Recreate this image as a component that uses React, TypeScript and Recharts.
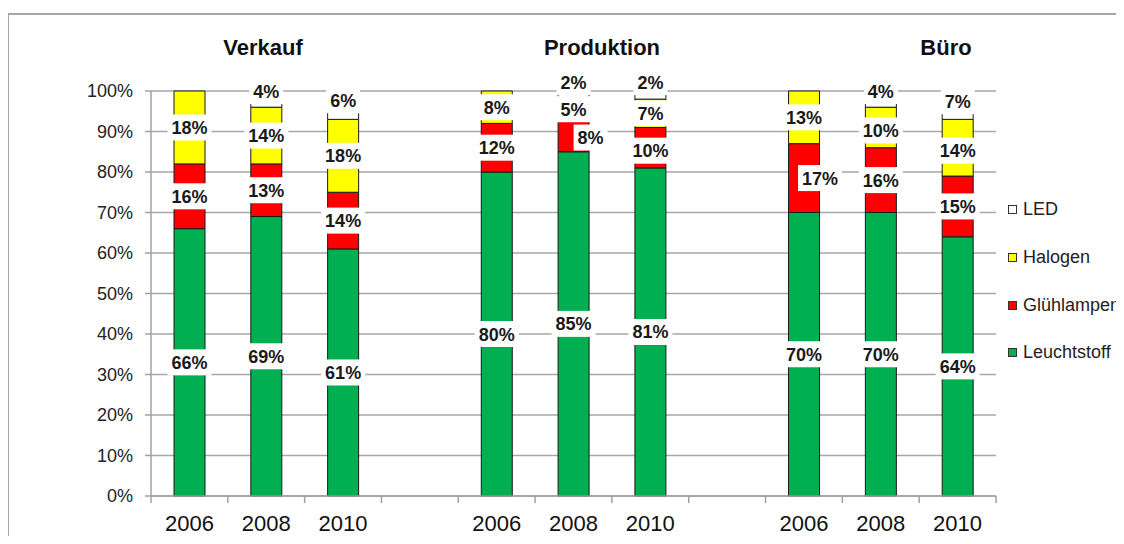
import React from "react";
import { BarChart, Bar, XAxis, YAxis, CartesianGrid, LabelList } from "recharts";

const categories = ["2006", "2008", "2010", "", "2006", "2008", "2010", "", "2006", "2008", "2010"];
const leuchtstoff = [66, 69, 61, null, 80, 85, 81, null, 70, 70, 64];
const gluehlampen = [16, 13, 14, null, 12, 8, 10, null, 17, 16, 15];
const halogen = [18, 14, 18, null, 8, 5, 7, null, 13, 10, 14];
const led = [0, 4, 6, null, 0, 2, 2, null, 0, 4, 7];
const yTicks = [0, 10, 20, 30, 40, 50, 60, 70, 80, 90, 100];

const groups = [
  { name: "Verkauf", center: 263 },
  { name: "Produktion", center: 602 },
  { name: "Büro", center: 946 },
];

const SERIES = [
  { key: "leuchtstoff", name: "Leuchtstoff", color: "#00B050" },
  { key: "gluehlampen", name: "Glühlampen", color: "#FF0000" },
  { key: "halogen", name: "Halogen", color: "#FFFF00" },
  { key: "led", name: "LED", color: "#FFFFFF" },
];

// label nudges where Excel moved labels away from each other (keyed by category position)
const labelShift: Record<string, [number, number]> = {
  "led-1": [0, -8],
  "led-2": [0, -7],
  "led-5": [0, -13],
  "led-6": [0, -13],
  "led-9": [0, -8],
  "led-10": [0, -4],
  "gluehlampen-5": [17, 2],
  "gluehlampen-8": [16, 0],
  "gluehlampen-6": [0, 3],
  "halogen-9": [0, 3],
  "halogen-10": [0, 3],
};

const data = categories.map((cat, i) => ({
  cat,
  leuchtstoff: leuchtstoff[i],
  gluehlampen: gluehlampen[i],
  halogen: halogen[i],
  led: led[i],
}));

const FONT = '"Liberation Sans", Arial, sans-serif';
const W = 1124;
const H = 544;
const PLOT_LEFT = 151;
const BAND = (996 - PLOT_LEFT) / categories.length;

const makeLabel = (key: string) => (props: any) => {
  const { x, y, width, height, value } = props;
  if (!value) return null;
  const barCenter = Number(x) + Number(width) / 2;
  const slot = Math.floor((barCenter - PLOT_LEFT) / BAND);
  const [dx, dy] = labelShift[`${key}-${slot}`] || [0, 0];
  const text = `${value}%`;
  const tw = (text.length - 1) * 10 + 16;
  const cx = barCenter + dx;
  const cy = Number(y) + Number(height) / 2 + dy;
  return (
    <g>
      <rect x={cx - tw / 2 - 4} y={cy - 13} width={tw + 8} height={26} fill="#fff" />
      <text x={cx} y={cy + 6.5} textAnchor="middle" fontFamily={FONT} fontWeight="bold" fontSize={18} fill="#1a1a1a">
        {text}
      </text>
    </g>
  );
};

const XTick = (props: any) => {
  const { x, y, payload, index } = props;
  return (
    <g>
      <line x1={x - BAND / 2} x2={x - BAND / 2} y1={y - 7} y2={y} stroke="#a0a0a0" strokeWidth={1.5} />
      {index === categories.length - 1 && (
        <line x1={x + BAND / 2} x2={x + BAND / 2} y1={y - 7} y2={y} stroke="#a0a0a0" strokeWidth={1.5} />
      )}
      <text x={x} y={y + 28} textAnchor="middle" fontFamily={FONT} fontSize={22} fill="#111">
        {payload.value}
      </text>
    </g>
  );
};

export default function App() {
  return (
    <div style={{ position: "relative", width: W, height: H, margin: -8, overflow: "hidden", background: "#fff" }}>
      <div
        style={{
          position: "absolute",
          left: 7,
          top: 13,
          width: 1300,
          height: 700,
          borderTop: "2px solid #a6a6a6",
          borderLeft: "2px solid #a6a6a6",
        }}
      />
      <div style={{ position: "absolute", left: 0, top: 0 }}>
        <BarChart width={W} height={H} data={data} margin={{ top: 91, right: 128, bottom: 0, left: 0 }} barSize={31}>
          <CartesianGrid horizontal vertical={false} stroke="#a6a6a6" strokeWidth={1.5} />
          <XAxis
            dataKey="cat"
            height={48}
            tickLine={false}
            tickSize={7}
            tickMargin={0}
            axisLine={{ stroke: "#a0a0a0", strokeWidth: 1.5 }}
            tick={<XTick />}
            interval={0}
          />
          <YAxis
            width={151}
            domain={[0, 100]}
            ticks={yTicks}
            interval={0}
            tickFormatter={(v: number) => `${v}%`}
            tickSize={6}
            tickMargin={12}
            axisLine={{ stroke: "#a0a0a0", strokeWidth: 1.5 }}
            tickLine={{ stroke: "#a0a0a0", strokeWidth: 1.5 }}
            tick={{ fontFamily: FONT, fontSize: 18, fill: "#222" }}
          />
          {SERIES.map((s) => (
            <Bar
              key={s.key}
              dataKey={s.key}
              name={s.name}
              stackId="a"
              fill={s.color}
              stroke="#1a1a1a"
              strokeWidth={1}
              isAnimationActive={false}
            >
              <LabelList dataKey={s.key} content={makeLabel(s.key)} />
            </Bar>
          ))}
        </BarChart>
      </div>
      {groups.map((g) => (
        <div
          key={g.name}
          style={{
            position: "absolute",
            left: g.center - 100,
            width: 200,
            top: 34,
            textAlign: "center",
            fontFamily: FONT,
            fontWeight: "bold",
            fontSize: 22,
            color: "#111",
            lineHeight: "28px",
          }}
        >
          {g.name}
        </div>
      ))}
      <div style={{ position: "absolute", left: 1008, top: 196, fontFamily: FONT, fontSize: 18, color: "#222" }}>
        {[...SERIES].reverse().map((s) => (
          <div key={s.key} style={{ display: "flex", alignItems: "center", height: 27.7, marginBottom: 20, whiteSpace: "nowrap" }}>
            <span
              style={{
                display: "inline-block",
                width: 7,
                height: 7,
                background: s.color,
                border: "1px solid #333",
                marginRight: 6,
              }}
            />
            {s.name}
          </div>
        ))}
      </div>
    </div>
  );
}
